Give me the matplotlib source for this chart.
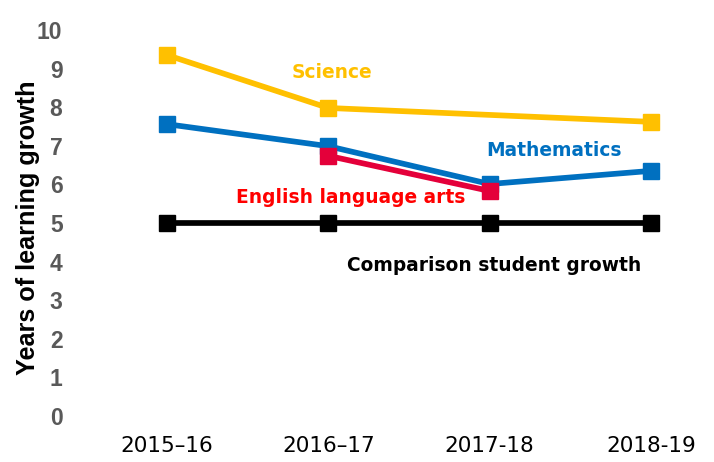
import matplotlib.pyplot as plt
from matplotlib import font_manager
import numpy as np

years = ["2015\u201316", "2016\u201317", "2017-18", "2018-19"]

science_x = [0, 1, 3]
science = [9.35, 7.98, 7.62]
math_x = [0, 1, 2, 3]
math = [7.56, 6.99, 6.01, 6.35]
ela_x = [1, 2]
ela = [6.74, 5.83]
comp_x = [0, 1, 2, 3]
comp = [5, 5, 5, 5]

# arial-like bold for the y axis (avoid the narrow variant)
arial_bold = None
for f in font_manager.fontManager.ttflist:
    if f.fname.endswith("LiberationSans-Bold.ttf"):
        arial_bold = f.fname
        break


def yfont(size):
    if arial_bold:
        return font_manager.FontProperties(fname=arial_bold, size=size)
    return font_manager.FontProperties(family="Liberation Sans", weight="bold", size=size)


fig = plt.figure(figsize=(7.14, 4.62), dpi=100)
ax = fig.add_axes([75 / 714, 1 - 427.6 / 462, (707 - 75) / 714, (427.6 - 18.4) / 462])

lw = 4.1
ms = 11
ax.plot(comp_x, comp, color="black", lw=lw, marker="s", ms=ms, clip_on=False)
ax.plot(science_x, science, color="#FFC000", lw=lw, marker="s", ms=ms, clip_on=False)
ax.plot(math_x, math, color="#0070C0", lw=lw, marker="s", ms=ms, clip_on=False)
ax.plot(ela_x, ela, color="#E4003A", lw=lw, marker="s", ms=ms, clip_on=False)

fs = 13.4
ax.text(0.77, 8.91, "Science", color="#FFC000", fontsize=fs, fontweight="bold", va="center", ha="left")
ax.text(2.40, 6.89, "Mathematics", color="#0070C0", fontsize=fs, fontweight="bold", va="center", ha="center")
ax.text(1.14, 5.65, "English language arts", color="#FF0000", fontsize=fs, fontweight="bold", va="center", ha="center")
ax.text(2.03, 3.91, "Comparison student growth", color="black", fontsize=fs, fontweight="bold", va="center", ha="center")

ax.set_xlim(-0.571, 3.348)
ax.set_ylim(-0.3, 10.3)
ax.set_xticks(range(len(years)))
ax.set_xticklabels(years, fontsize=15.5)
ax.set_yticks(np.arange(0, 11))
ax.set_yticklabels([str(i) for i in range(11)], fontproperties=yfont(16.5), color="#595959")
ax.tick_params(length=0)
ax.tick_params(axis="y", pad=9)
ax.tick_params(axis="x", pad=6)
for s in ax.spines.values():
    s.set_visible(False)
ax.set_ylabel("Years of learning growth", fontproperties=yfont(18.2))
ax.yaxis.set_label_coords(-0.056, 0.488)

fig.savefig("out.png", dpi=100)
